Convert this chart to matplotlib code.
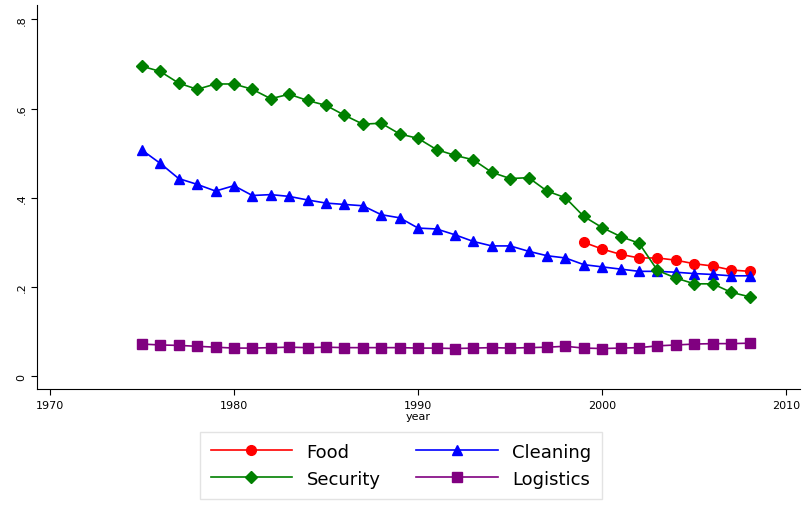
import matplotlib
matplotlib.use("Agg")
import matplotlib.pyplot as plt

years = list(range(1975, 2009))
food_years = list(range(1999, 2009))
food = [.300, .285, .273, .265, .265, .260, .252, .247, .238, .235]
security = [.695, .683, .657, .643, .655, .655, .643, .622, .632, .618, .607, .585,
            .565, .567, .543, .533, .508, .495, .485, .457, .443, .445, .415, .400,
            .358, .333, .313, .298, .237, .220, .207, .207, .188, .178]
cleaning = [.507, .477, .443, .430, .415, .427, .405, .407, .403, .395, .388, .385,
            .382, .362, .355, .332, .330, .317, .302, .292, .292, .280, .270, .265,
            .250, .245, .240, .235, .235, .233, .230, .228, .225, .225]
logistics = [.072, .070, .069, .067, .065, .063, .063, .064, .065, .064, .065, .064,
             .064, .064, .064, .063, .063, .062, .063, .064, .063, .064, .065, .067,
             .063, .062, .063, .064, .068, .070, .072, .073, .073, .074]
yticks = [0, .2, .4, .6, .8]
ylabels = ["0", ".2", ".4", ".6", ".8"]
xticks = [1970, 1980, 1990, 2000, 2010]

fig = plt.figure(figsize=(8.02, 5.06), dpi=100)
ax = fig.add_axes([0.046, 0.229, 0.952, 0.76])

l1, = ax.plot(food_years, food, color="red", marker="o", ms=7, lw=1.2, label="Food")
l2, = ax.plot(years, cleaning, color="blue", marker="^", ms=7, lw=1.2, label="Cleaning")
l3, = ax.plot(years, security, color="green", marker="D", ms=6.5, lw=1.2, label="Security")
l4, = ax.plot(years, logistics, color="purple", marker="s", ms=6.5, lw=1.2, label="Logistics")

ax.set_xlim(1969.3, 2010.76)
ax.set_ylim(-0.029, 0.833)
ax.set_yticks(yticks)
ax.set_yticklabels(ylabels, rotation=90, va="center")
ax.set_xticks(xticks)
ax.tick_params(labelsize=8, length=4)
ax.set_xlabel("year", fontsize=8, labelpad=1)
for s in ["top", "right"]:
    ax.spines[s].set_visible(False)

fig.legend(handles=[l1, l3, l2, l4], loc="lower center", ncol=2,
           bbox_to_anchor=(0.5, -0.005), fontsize=13, frameon=True,
           fancybox=False, edgecolor="#dddddd", handlelength=4.5,
           columnspacing=2.0, borderpad=0.6)
fig.savefig("out.png", dpi=100)
